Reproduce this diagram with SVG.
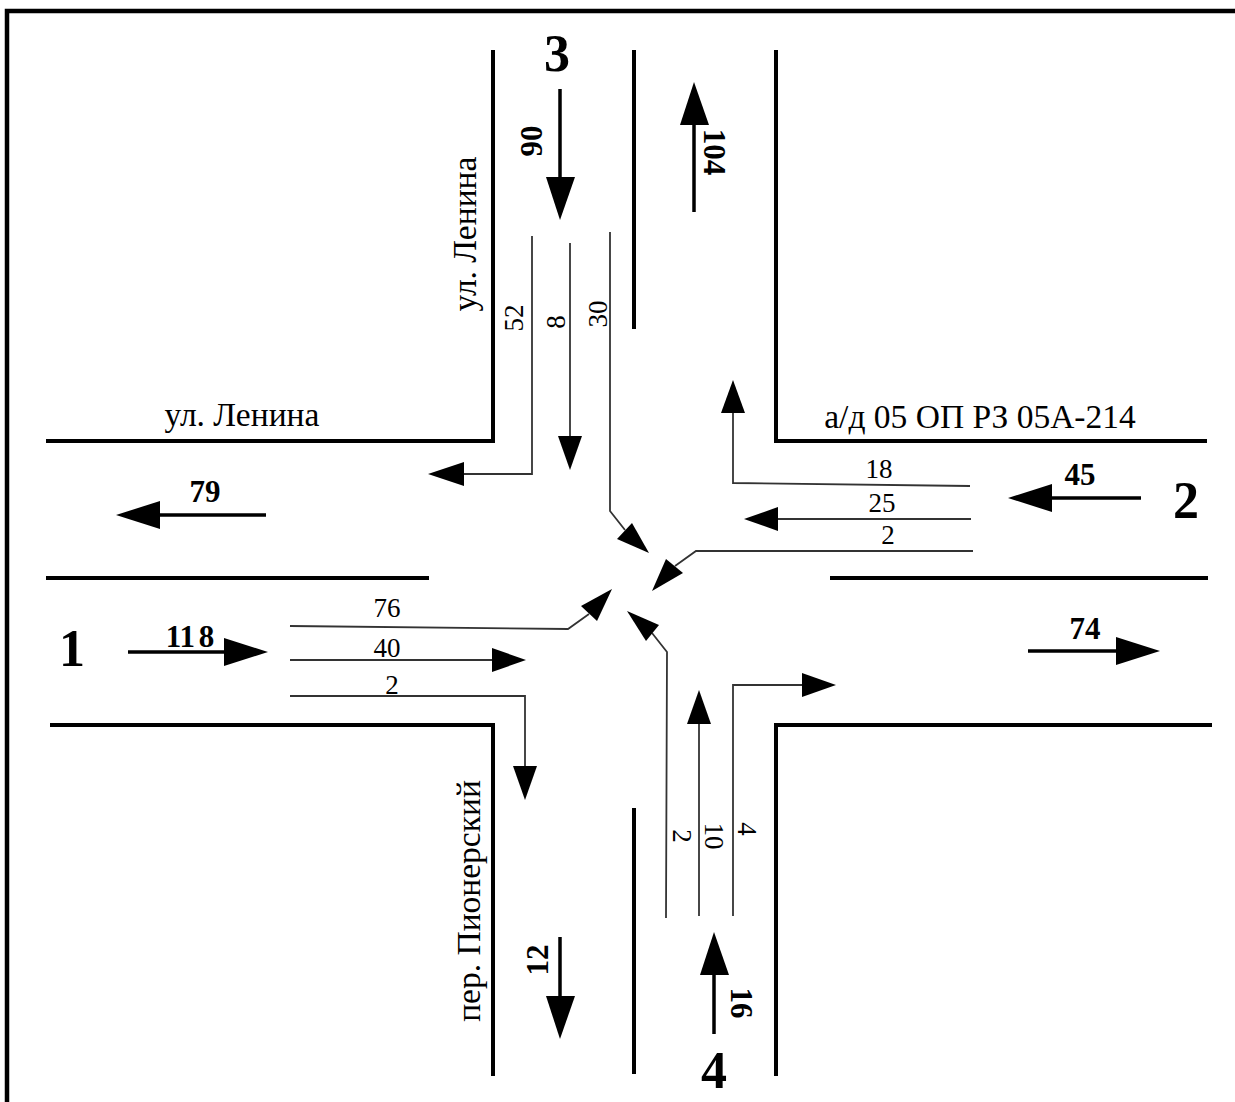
<svg xmlns="http://www.w3.org/2000/svg" width="1235" height="1102" viewBox="0 0 1235 1102">
<style>
text{font-family:"Liberation Serif","Times New Roman",serif;fill:#000;text-anchor:middle}
.r{stroke:#000;stroke-width:4;fill:none}
.t{stroke:#333;stroke-width:1.8;fill:none}
.b{stroke:#000;stroke-width:3.5;fill:none}
.h{fill:#000;stroke:none}
.n{font-size:27px}
.l{font-size:33.5px}
.f{font-size:31px;font-weight:bold}
.d{font-size:52px;font-weight:bold}
</style>
<rect width="1235" height="1102" fill="#fff"/>
<path d="M7 1102V11H1235" stroke="#000" stroke-width="4.5" fill="none"/>
<g id="roads">
<path class="r" d="M493 50V441H46M634 50V329M776 50V441H1207M46 578H429M830 578H1208M50 725H493V1076M776 1076V725H1212M634 808V1074"/>
</g>
<g id="connectors">
<path class="t" d="M532 236V474H462"/><path class="h" d="M428 474L464 462V486Z"/>
<path class="t" d="M570 243V436"/><path class="h" d="M570 470L558 436H582Z"/>
<path class="t" d="M610 232V511L625 530"/><path class="h" d="M649 553L617 539L632 523Z"/>
<path class="t" d="M970 486L733 483V412"/><path class="h" d="M733 380L745 413H721Z"/>
<path class="t" d="M971 519H778"/><path class="h" d="M744 519L778 507V531Z"/>
<path class="t" d="M973 551H696L675 566"/><path class="h" d="M652 591L666 559L683 573Z"/>
<path class="t" d="M290 626L568 629L589 614"/><path class="h" d="M612 589L597 621L581 606Z"/>
<path class="t" d="M666 918L667 652L652 633"/><path class="h" d="M627 611L659 625L646 641Z"/>
<path class="t" d="M290 660H492"/><path class="h" d="M526 660L492 648V672Z"/>
<path class="t" d="M290 696H525V766"/><path class="h" d="M525 800L513 766H537Z"/>
<path class="t" d="M699 916V724"/><path class="h" d="M699 690L711 724H687Z"/>
<path class="t" d="M733 916V685H802"/><path class="h" d="M836 685L802 673V697Z"/>
<path class="b" d="M560 89V178"/><path class="h" d="M560 220L546 177H575Z"/>
<path class="b" d="M694 212V124"/><path class="h" d="M694 82L709 125H680Z"/>
<path class="b" d="M266 515H158"/><path class="h" d="M116 515L160 501V529Z"/>
<path class="b" d="M1141 498H1050"/><path class="h" d="M1008 498L1052 484V512Z"/>
<path class="b" d="M128 652H224"/><path class="h" d="M268 652L224 638V666Z"/>
<path class="b" d="M1028 651H1116"/><path class="h" d="M1160 651L1116 637V665Z"/>
<path class="b" d="M560 937V996"/><path class="h" d="M560 1039L546 996H575Z"/>
<path class="b" d="M714 1034V975"/><path class="h" d="M714 932L729 975H700Z"/>
</g>
<g id="labels">
<text class="d" x="557" y="71">3</text>
<text class="d" x="1186" y="518">2</text>
<text class="d" x="72" y="666">1</text>
<text class="d" x="714" y="1088">4</text>
<text class="f" x="205" y="502">79</text>
<text class="f" x="1080" y="485">45</text>
<text class="f" x="190" y="647" word-spacing="-4">11 8</text>
<text class="f" x="1085" y="639">74</text>
<text class="f" transform="translate(542 141) rotate(-90)">90</text>
<text class="f" transform="translate(704 152) rotate(90)">104</text>
<text class="f" transform="translate(548 960) rotate(-90)">12</text>
<text class="f" transform="translate(731 1003) rotate(90)">16</text>
<text class="n" x="387" y="617">76</text>
<text class="n" x="387" y="657">40</text>
<text class="n" x="392" y="694">2</text>
<text class="n" x="879" y="478">18</text>
<text class="n" x="882" y="512">25</text>
<text class="n" x="888" y="544">2</text>
<text class="n" transform="translate(523 318) rotate(-90)">52</text>
<text class="n" transform="translate(565 322) rotate(-90)">8</text>
<text class="n" transform="translate(607 314) rotate(-90)">30</text>
<text class="n" transform="translate(673 836) rotate(90)">2</text>
<text class="n" transform="translate(705 836) rotate(90)">10</text>
<text class="n" transform="translate(738 829) rotate(90)">4</text>
<text class="l" x="242" y="426">ул. Ленина</text>
<text class="l" x="980" y="428">а/д 05 ОП РЗ 05А-214</text>
<text class="l" transform="translate(476 234) rotate(-90)">ул. Ленина</text>
<text class="l" transform="translate(480 901) rotate(-90)">пер. Пионерский</text>
</g>
</svg>
